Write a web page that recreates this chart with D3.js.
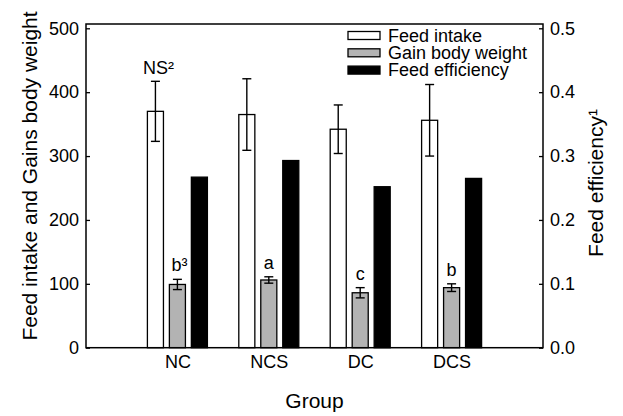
<!DOCTYPE html>
<html>
<head>
<meta charset="utf-8">
<script src="https://cdn.jsdelivr.net/npm/d3@7/dist/d3.min.js"></script>
<style>
  html, body { margin: 0; padding: 0; background: #fff; }
  svg { display: block; font-family: "Liberation Sans", Arial, sans-serif; }
</style>
</head>
<body>
<div id="chart"></div>
<script>
  var groups = ['NC', 'NCS', 'DC', 'DCS'];
  var series = ['Feed intake', 'Gain body weight', 'Feed efficiency'];
  var feedIntake = [370, 365, 342, 356];
  var feedIntakeErr = [47, 56, 38, 56];
  var gainWeight = [99, 106, 86, 94];
  var gainWeightErr = [8, 5, 8, 6];
  var feedEfficiency = [0.267, 0.293, 0.252, 0.265];
  var gainLetters = ['b³', 'a', 'c', 'b'];
  var leftTicks = [0, 100, 200, 300, 400, 500];
  var rightTicks = [0, 0.1, 0.2, 0.3, 0.4, 0.5];

  var width = 623;
  var height = 416;
  var frame = { left: 86, right: 543, top: 24, bottom: 347.7 };

  var svg = d3.select('#chart').append('svg')
    .attr('width', width)
    .attr('height', height);

  var x = d3.scaleLinear().domain([0, groups.length + 1]).range([frame.left, frame.right]);
  var inner = d3.scaleBand().domain(series).range([-30, 30]).paddingInner(0.27);
  var yLeft = d3.scaleLinear().domain([0, 500]).range([frame.bottom, 28.3]);
  var yRight = d3.scaleLinear().domain([0, 0.5]).range([frame.bottom, 28.3]);
  var fills = { 'Feed intake': '#ffffff', 'Gain body weight': '#b3b3b3', 'Feed efficiency': '#000000' };

  var bars = [];
  groups.forEach(function (g, i) {
    bars.push({ g: i + 1, s: series[0], y: yLeft(feedIntake[i]), hi: yLeft(feedIntake[i] + feedIntakeErr[i]), lo: yLeft(feedIntake[i] - feedIntakeErr[i]) });
    bars.push({ g: i + 1, s: series[1], y: yLeft(gainWeight[i]), hi: yLeft(gainWeight[i] + gainWeightErr[i]), lo: yLeft(gainWeight[i] - gainWeightErr[i]) });
    bars.push({ g: i + 1, s: series[2], y: yRight(feedEfficiency[i]) });
  });

  var barLayer = svg.append('g');
  barLayer.selectAll('rect').data(bars).enter().append('rect')
    .attr('x', function (d) { return x(d.g) + inner(d.s); })
    .attr('y', function (d) { return d.y; })
    .attr('width', inner.bandwidth())
    .attr('height', function (d) { return frame.bottom - d.y; })
    .attr('fill', function (d) { return fills[d.s]; })
    .attr('stroke', '#000')
    .attr('stroke-width', 1.3);

  var errs = bars.filter(function (d) { return d.hi !== undefined; });
  var errLayer = svg.append('g').attr('stroke', '#000').attr('stroke-width', 1.4);
  errs.forEach(function (d) {
    var cx = x(d.g) + inner(d.s) + inner.bandwidth() / 2;
    errLayer.append('line').attr('x1', cx).attr('x2', cx).attr('y1', d.hi).attr('y2', d.lo);
    errLayer.append('line').attr('x1', cx - 4.5).attr('x2', cx + 4.5).attr('y1', d.hi).attr('y2', d.hi);
    errLayer.append('line').attr('x1', cx - 4.5).attr('x2', cx + 4.5).attr('y1', d.lo).attr('y2', d.lo);
  });

  // significance letters
  var textLayer = svg.append('g').attr('font-size', 18).attr('fill', '#000').attr('text-anchor', 'middle');
  groups.forEach(function (g, i) {
    var cx = x(i + 1) + inner(series[1]) + inner.bandwidth() / 2;
    textLayer.append('text')
      .attr('x', cx + (gainLetters[i].length > 1 ? 2 : 0))
      .attr('y', yLeft(gainWeight[i] + gainWeightErr[i]) - 8)
      .text(gainLetters[i]);
  });
  textLayer.append('text')
    .attr('x', x(1) + inner(series[0]) + inner.bandwidth() / 2 + 3)
    .attr('y', yLeft(feedIntake[0] + feedIntakeErr[0]) - 7)
    .text('NS²');

  // frame
  svg.append('rect')
    .attr('x', frame.left).attr('y', frame.top)
    .attr('width', frame.right - frame.left)
    .attr('height', frame.bottom - frame.top)
    .attr('fill', 'none').attr('stroke', '#000').attr('stroke-width', 1.5);

  // axes
  var leftAxis = svg.append('g')
    .attr('transform', 'translate(' + frame.left + ',0)')
    .call(d3.axisLeft(yLeft).tickValues(leftTicks).tickFormat(d3.format('d')).tickSizeInner(-4).tickSizeOuter(0).tickPadding(7));
  var rightAxis = svg.append('g')
    .attr('transform', 'translate(' + frame.right + ',0)')
    .call(d3.axisRight(yRight).tickValues(rightTicks).tickFormat(d3.format('.1f')).tickSizeInner(-4).tickSizeOuter(0).tickPadding(7));
  var bottomAxis = svg.append('g')
    .attr('transform', 'translate(0,' + frame.bottom + ')')
    .call(d3.axisBottom(x).tickValues([1, 2, 3, 4]).tickFormat(function (d) { return groups[d - 1]; }).tickSize(0).tickPadding(8));

  [leftAxis, rightAxis, bottomAxis].forEach(function (a) {
    a.select('.domain').remove();
    a.selectAll('text').attr('font-size', 18).attr('fill', '#000').attr('font-family', '"Liberation Sans", Arial, sans-serif');
    a.selectAll('line').attr('stroke', '#000').attr('stroke-width', 1.3);
  });
  bottomAxis.selectAll('text').attr('dy', '0.71em');

  // axis titles
  svg.append('text')
    .attr('transform', 'translate(37,176) rotate(-90)')
    .attr('text-anchor', 'middle').attr('font-size', 21)
    .text('Feed intake and Gains body weight');
  svg.append('text')
    .attr('transform', 'translate(603,183) rotate(-90)')
    .attr('text-anchor', 'middle').attr('font-size', 21)
    .text('Feed efficiency¹');
  svg.append('text')
    .attr('x', (frame.left + frame.right) / 2).attr('y', 408)
    .attr('text-anchor', 'middle').attr('font-size', 21)
    .text('Group');

  // legend
  var legend = svg.append('g').attr('transform', 'translate(348,35.5)');
  series.forEach(function (s, i) {
    var row = legend.append('g').attr('transform', 'translate(0,' + (i * 17.3) + ')');
    row.append('rect').attr('x', 0).attr('y', -4).attr('width', 32).attr('height', 8)
      .attr('fill', fills[s]).attr('stroke', '#000').attr('stroke-width', 1.3);
    row.append('text').attr('x', 40).attr('y', 6).attr('font-size', 18).text(s);
  });
</script>
</body>
</html>
